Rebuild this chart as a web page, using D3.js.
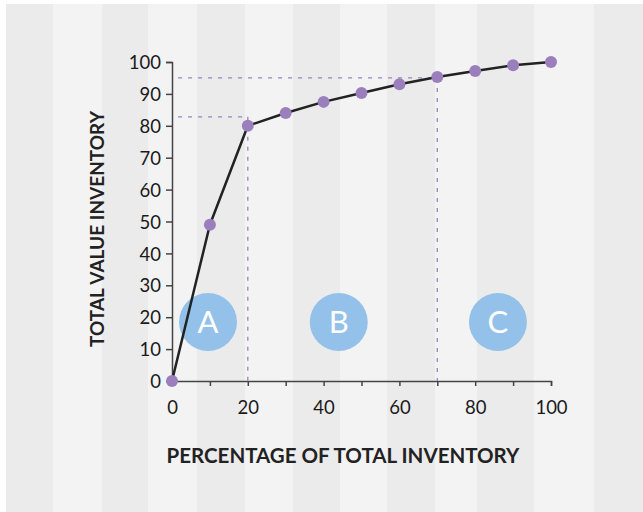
<!DOCTYPE html>
<html lang="en">
<head>
<meta charset="UTF-8">
<title>ABC Inventory Curve</title>
<script src="https://d3js.org/d3.v7.min.js"></script>
<style>
    body { margin: 0; background: #ffffff; }
    svg { display: block; }
    .tick text { font-family: Lato, sans-serif; font-size: 18.5px; fill: #1a1a1a; }
    .axis-title { font-family: Lato, sans-serif; font-weight: bold; fill: #222; }
    .zone-label { font-family: Lato, sans-serif; font-size: 31px; fill: #fff; }
</style>
</head>
<body>
<svg width="643" height="512"></svg>
<script>
    // cumulative share of inventory vs cumulative share of value
    const pctInventory = [0, 10, 20, 30, 40, 50, 60, 70, 80, 90, 100];
    const pctValue = [0, 49, 80, 84, 87.5, 90.3, 93, 95.3, 97.2, 99, 100];
    const xTicks = [0, 20, 40, 60, 80, 100];
    const yTicks = [0, 10, 20, 30, 40, 50, 60, 70, 80, 90, 100];
    // class cut-offs: A ends at 20% of items, B ends at 70%
    const cutoffs = [{x: 20, y: 82.8}, {x: 70, y: 95}];
    const zones = [{label: "A", x: 9.5}, {label: "B", x: 44}, {label: "C", x: 86}];
    const zoneY = 18.5;
    // background stripe edges (pixels)
    const stripeEdges = [6, 53, 102, 148, 197, 245, 293, 340, 387, 435, 477, 534, 594, 643];

    const svg = d3.select("svg");

    // striped backdrop
    svg.append("g").selectAll("rect")
        .data(d3.pairs(stripeEdges))
        .enter().append("rect")
        .attr("x", d => d[0])
        .attr("y", 4)
        .attr("width", d => d[1] - d[0])
        .attr("height", 508)
        .attr("fill", (d, i) => i % 2 === 0 ? "#ebebeb" : "#f3f3f3");

    const x = d3.scaleLinear().domain([0, 100]).range([172, 551]);
    const y = d3.scaleLinear().domain([0, 100]).range([381, 62]);

    // axes
    const xAxis = svg.append("g")
        .attr("transform", "translate(0," + y(0) + ")")
        .call(d3.axisBottom(x).tickValues(d3.range(0, 101, 10)).tickSize(5).tickPadding(15)
            .tickFormat(d => xTicks.includes(d) ? d : ""));
    const yAxis = svg.append("g")
        .attr("transform", "translate(" + x(0) + ",0)")
        .call(d3.axisLeft(y).tickValues(yTicks).tickSize(6).tickPadding(5));

    [xAxis, yAxis].forEach(g => {
        g.select(".domain").attr("stroke", "#444").attr("stroke-width", 1.5);
        g.selectAll(".tick line").attr("stroke", "#444").attr("stroke-width", 1.5);
    });
    yAxis.selectAll(".tick text").attr("dy", "0.36em");

    // dashed guides
    const guides = svg.append("g")
        .attr("stroke", "#9b82bd")
        .attr("stroke-width", 1.3)
        .attr("stroke-dasharray", "4,6");
    cutoffs.forEach(c => {
        guides.append("line")
            .attr("x1", x(1.6)).attr("x2", x(c.x))
            .attr("y1", y(c.y)).attr("y2", y(c.y));
        guides.append("line")
            .attr("x1", x(c.x)).attr("x2", x(c.x))
            .attr("y1", y(c.y)).attr("y2", y(0));
    });

    // zone badges
    const badge = svg.append("g").selectAll("g")
        .data(zones)
        .enter().append("g")
        .attr("transform", d => "translate(" + x(d.x) + "," + y(zoneY) + ")");
    badge.append("circle").attr("r", 29).attr("fill", "#93c1e9");
    badge.append("text")
        .attr("class", "zone-label")
        .attr("text-anchor", "middle")
        .attr("dy", "0.36em")
        .text(d => d.label);

    // curve
    const pts = pctInventory.map((d, i) => [d, pctValue[i]]);
    svg.append("path")
        .datum(pts)
        .attr("fill", "none")
        .attr("stroke", "#222")
        .attr("stroke-width", 2.5)
        .attr("stroke-linejoin", "round")
        .attr("d", d3.line().x(d => x(d[0])).y(d => y(d[1])));

    svg.append("g").selectAll("circle")
        .data(pts)
        .enter().append("circle")
        .attr("cx", d => x(d[0]))
        .attr("cy", d => y(d[1]))
        .attr("r", 6)
        .attr("fill", "#9b7fbd");

    // axis titles
    svg.append("text")
        .attr("class", "axis-title")
        .attr("x", 343).attr("y", 463)
        .attr("text-anchor", "middle")
        .style("font-size", "20.5px")
        .text("PERCENTAGE OF TOTAL INVENTORY");
    svg.append("text")
        .attr("class", "axis-title")
        .attr("transform", "translate(104,229) rotate(-90)")
        .attr("text-anchor", "middle")
        .style("font-size", "19px")
        .text("TOTAL VALUE INVENTORY");
</script>
</body>
</html>
